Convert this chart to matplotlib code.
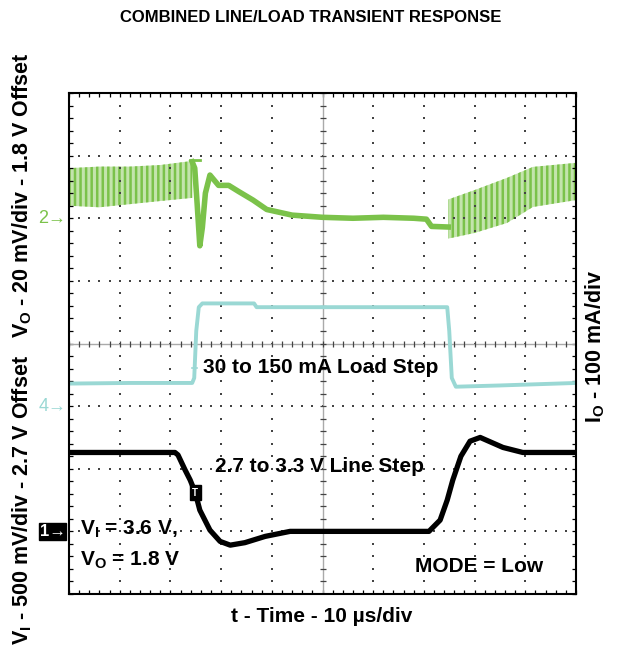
import matplotlib
matplotlib.use("Agg")
import matplotlib.pyplot as plt
import numpy as np

plt.rcParams['font.family'] = ['Liberation Sans', 'DejaVu Sans']
plt.rcParams['font.weight'] = 'bold'
plt.rcParams['mathtext.fontset'] = 'custom'
plt.rcParams['mathtext.rm'] = 'Liberation Sans:bold'
plt.rcParams['mathtext.it'] = 'Liberation Sans:bold'
plt.rcParams['mathtext.bf'] = 'Liberation Sans:bold'
plt.rcParams['hatch.linewidth'] = 1.8

# scope settings (div based screen, 10 x 8 divisions)
t_per_div = 10.0      # us/div
vo_per_div = 20.0     # mV/div, ch2
io_per_div = 100.0    # mA/div, ch4
vi_per_div = 0.5      # V/div, ch1
vi_offset = 2.7       # V
ch2_ref, ch4_ref, ch1_ref = 6.0, 3.0, 1.0

# ch2 : VO ripple envelope before the step (mV around 1.8 V)
vo_rip1_t = [0.0, 6.0, 12.0, 18.0, 24.3]
vo_rip1_hi = [16.0, 16.5, 16.5, 17.0, 18.3]
vo_rip1_lo = [4.0, 3.5, 4.5, 5.5, 6.5]
# ch2 : VO transient (mV)
vo_t = [24.3, 24.8, 25.3, 25.8, 26.3, 26.9, 27.8, 29.5, 31.5, 33.5, 36.3, 39.0,
        44.0, 50.0, 56.0, 62.0, 68.0, 70.5, 71.5, 74.8]
vo_mv = [18.0, 16.0, 4.0, -8.8, -3.0, 8.0, 13.8, 10.5, 10.5, 8.5, 5.8, 2.8,
         1.0, 0.3, 0.0, 0.3, 0.0, -0.3, -2.6, -2.8]
# ch2 : VO ripple envelope after the step
vo_rip2_t = [74.8, 80.0, 86.4, 91.5, 100.0]
vo_rip2_hi = [6.0, 9.0, 12.9, 16.4, 17.7]
vo_rip2_lo = [-6.5, -4.7, -1.5, 3.6, 5.8]

# ch4 : IO (mA)
io_t = [0.0, 12.0, 24.3, 24.7, 25.1, 25.6, 26.3, 36.5, 37.0, 60.0, 74.6, 75.0,
        75.5, 76.3, 85.0, 100.0]
io_ma = [36.0, 37.0, 37.0, 45.0, 120.0, 158.0, 164.0, 164.0, 158.0, 158.0, 158.0,
         120.0, 45.0, 31.0, 33.0, 37.0]

# ch1 : VI (V)
vi_t = [0.0, 20.9, 21.5, 22.9, 23.9, 24.9, 25.8, 27.8, 29.8, 31.8, 34.7, 38.7,
        43.6, 55.0, 71.0, 73.2, 74.6, 75.7, 77.3, 79.1, 81.1, 85.6, 89.5, 100.0]
vi_v = [3.33, 3.33, 3.31, 3.19, 3.11, 3.01, 2.87, 2.71, 2.62, 2.59, 2.61, 2.66,
        2.70, 2.70, 2.70, 2.79, 2.95, 3.11, 3.30, 3.42, 3.45, 3.37, 3.33, 3.33]

green = '#7bc24a'
green_lt = '#c4e4ad'
cyan = '#9ad8d4'

fig = plt.figure(figsize=(6.18, 6.52), dpi=100)
ax = fig.add_axes([69/618, 1-594/652, 507/618, 501/652])
ax.set_xlim(0, 10)
ax.set_ylim(0, 8)

# graticule
fine = np.arange(0, 10.01, 0.2)
fine_y = np.arange(0, 8.01, 0.2)
for gx in range(1, 10):
    if gx != 5:
        ax.plot([gx]*len(fine_y), fine_y, ls='none', marker='s', ms=1.6, color='#444444', mew=0)
for gy in range(1, 8):
    if gy != 4:
        ax.plot(fine, [gy]*len(fine), ls='none', marker='s', ms=1.6, color='#444444', mew=0)
ax.axhline(4, color='#aaaaaa', lw=1.0)
ax.axvline(5, color='#aaaaaa', lw=1.0)
ax.plot(fine, [4]*len(fine), ls='none', marker='|', ms=4, color='#444444', mew=0.9)
ax.plot([5]*len(fine_y), fine_y, ls='none', marker='_', ms=4, color='#444444', mew=0.9)

ax.set_xticks(fine)
ax.set_yticks(fine_y)
ax.tick_params(direction='in', length=3, width=0.9, top=True, right=True,
               labelbottom=False, labelleft=False)
for s in ax.spines.values():
    s.set_linewidth(1.5)

def tdiv(t):
    return np.array(t) / t_per_div

# VO trace
ax.fill_between(tdiv(vo_rip1_t), ch2_ref + np.array(vo_rip1_lo)/vo_per_div,
                ch2_ref + np.array(vo_rip1_hi)/vo_per_div,
                facecolor=green_lt, edgecolor=green, hatch='|||', linewidth=0)
ax.fill_between(tdiv(vo_rip2_t), ch2_ref + np.array(vo_rip2_lo)/vo_per_div,
                ch2_ref + np.array(vo_rip2_hi)/vo_per_div,
                facecolor=green_lt, edgecolor=green, hatch='|||', linewidth=0)
ax.plot(tdiv(vo_t), ch2_ref + np.array(vo_mv)/vo_per_div, color=green, lw=4,
        solid_joinstyle='round')
ax.plot(tdiv([23.9, 25.8]), [ch2_ref + 18.6/vo_per_div]*2, color=green, lw=2)

# IO trace
ax.plot(tdiv(io_t), ch4_ref + np.array(io_ma)/io_per_div, color=cyan, lw=2.8)
ax.plot(tdiv([24.2, 25.2]), [ch4_ref + 61/io_per_div]*2, color=cyan, lw=1.2)

# VI trace
ax.plot(tdiv(vi_t), ch1_ref + (np.array(vi_v) - vi_offset)/vi_per_div, color='black',
        lw=3.8, solid_joinstyle='round')
ax.text(2.49, ch1_ref + (3.01 - vi_offset)/vi_per_div, 'T', color='white', fontsize=7,
        ha='center', va='center',
        bbox=dict(boxstyle='square,pad=0.25', fc='black', ec='black'))

# channel markers
ax.text(-0.05, ch2_ref, '2→', color=green, fontsize=13, fontweight='normal',
        ha='right', va='center', clip_on=False)
ax.text(-0.05, ch4_ref, '4→', color=cyan, fontsize=13, fontweight='normal',
        ha='right', va='center', clip_on=False)
ax.text(-0.07, ch1_ref, '1→', color='white', fontsize=12, ha='right', va='center',
        clip_on=False, bbox=dict(boxstyle='square,pad=0.05', fc='black', ec='black'))

# annotations
ax.text(2.64, 3.53, '30 to 150 mA Load Step', fontsize=15, ha='left', va='baseline')
ax.text(2.88, 1.95, '2.7 to 3.3 V Line Step', fontsize=15, ha='left', va='baseline')
ax.text(0.22, 0.94, r'V$_{\mathrm{I}}$ = 3.6 V,', fontsize=15, ha='left', va='baseline')
ax.text(0.22, 0.45, r'V$_{\mathrm{O}}$ = 1.8 V', fontsize=15, ha='left', va='baseline')
ax.text(6.82, 0.35, 'MODE = Low', fontsize=15, ha='left', va='baseline')

fig.text(311/618, 1-18/652, 'COMBINED LINE/LOAD TRANSIENT RESPONSE', fontsize=12,
         ha='center', va='center')
fig.text(322/618, 1-617/652, 't - Time - 10 µs/div', fontsize=15, ha='center', va='center')
fig.text(22/618, 1-195/652, r'V$_{\mathrm{O}}$ - 20 mV/div - 1.8 V Offset', fontsize=15.5,
         rotation=90, ha='center', va='center')
fig.text(22/618, 1-500/652, r'V$_{\mathrm{I}}$ - 500 mV/div - 2.7 V Offset', fontsize=15.5,
         rotation=90, ha='center', va='center')
fig.text(595/618, 1-346/652, r'I$_{\mathrm{O}}$ - 100 mA/div', fontsize=15.5,
         rotation=90, ha='center', va='center')

fig.savefig('out.png', dpi=100)
